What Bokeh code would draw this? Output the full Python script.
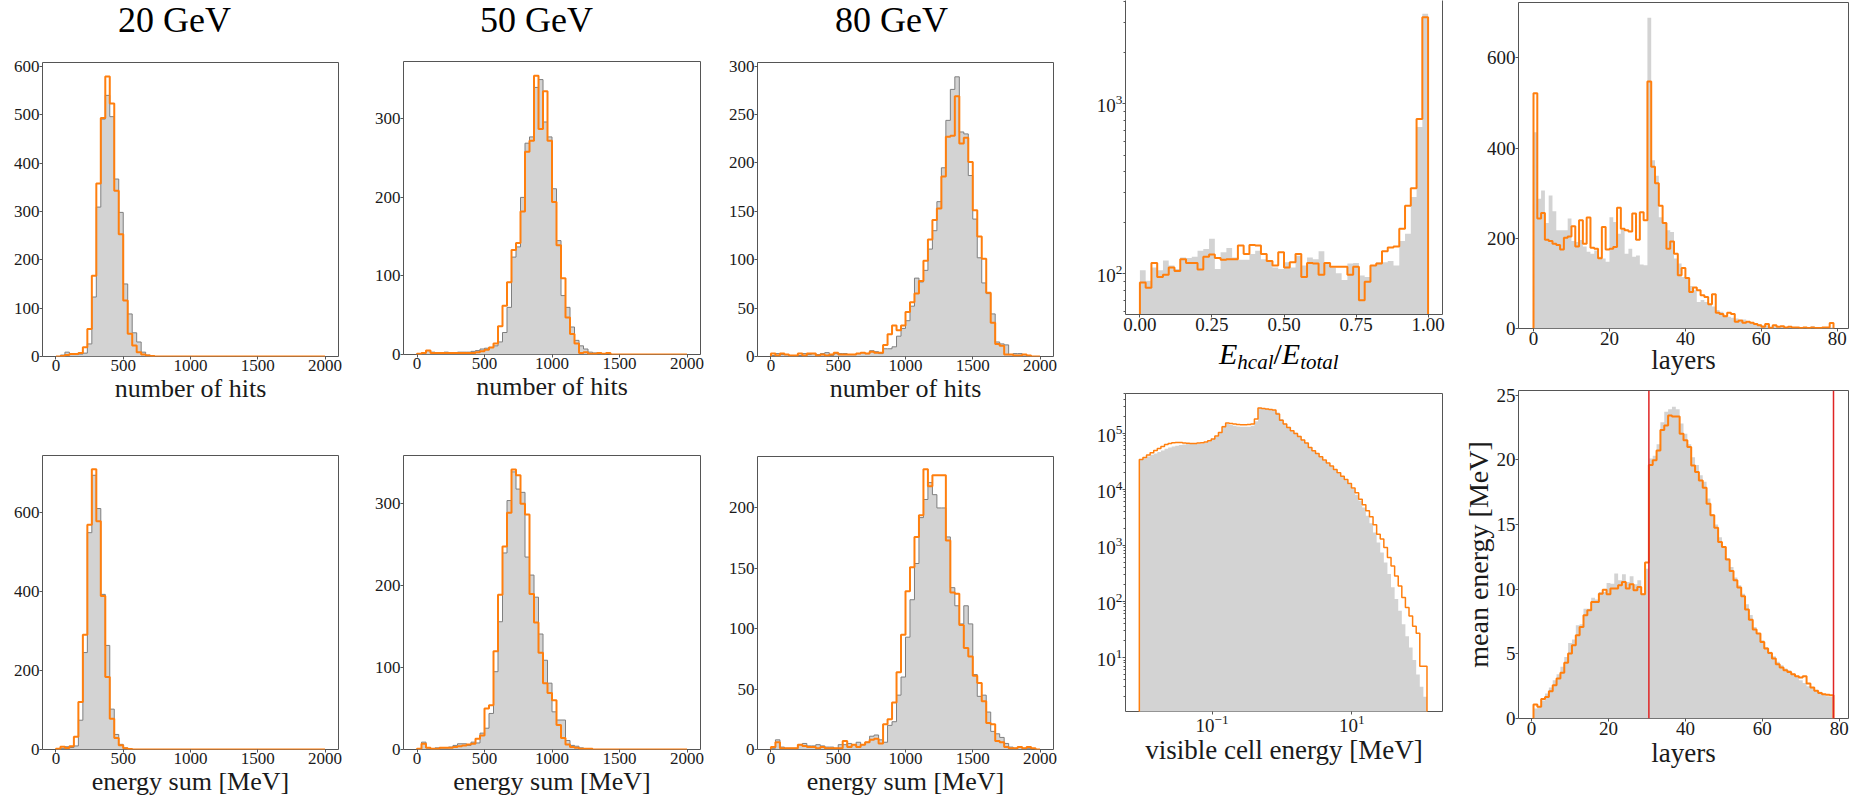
import numpy as np
from bokeh.plotting import figure
from bokeh.layouts import row, column
from bokeh.models import Range1d, FixedTicker, Span, LogAxis, PrintfTickFormatter, Div
from bokeh.embed import file_html
from bokeh.resources import INLINE

# ---------------------------------------------------------------- data
N_HIT_BINS = 60


def pad(vals, n=N_HIT_BINS):
    """Trailing empty bins are zero."""
    return list(vals) + [0] * (n - len(vals))


HIT_EDGES = np.linspace(0, 2000, N_HIT_BINS + 1)   # number of hits / energy sum [MeV]

ENERGY_LABELS = ["20 GeV", "50 GeV", "80 GeV"]

# number of hits, reference (grey) and generated (orange)
HITS_20_REF = pad([0, 3, 9, 4, 4, 5, 7, 26, 123, 309, 491, 540, 496, 367, 298, 150, 88, 49, 30, 9, 3, 1])
HITS_20_GEN = pad([0, 1, 3, 5, 5, 7, 19, 57, 167, 358, 493, 579, 523, 343, 253, 116, 47, 23, 9, 4, 2, 1])

HITS_50_REF = pad([1, 2, 5, 3, 2, 2, 3, 2, 2, 3, 3, 3, 4, 5, 7, 8, 9, 11, 16, 28, 60, 124, 137, 200, 269,
                   277, 340, 350, 296, 277, 211, 145, 75, 60, 35, 18, 11, 7, 3, 2, 1])
HITS_50_GEN = pad([1, 2, 5, 2, 2, 2, 2, 2, 2, 2, 2, 2, 2, 3, 4, 6, 9, 14, 36, 62, 92, 133, 142, 182, 258,
                   272, 355, 287, 335, 272, 194, 139, 97, 47, 26, 14, 2, 3, 1, 1, 2, 1, 2])

HITS_80_REF = [1, 3, 2, 2, 1, 1, 1, 3, 2, 3, 2, 3, 4, 1, 3, 3, 3, 2, 2, 3,
               4, 3, 6, 5, 3, 8, 8, 10, 21, 29, 37, 52, 81, 77, 89, 111, 130, 160, 195, 244,
               276, 289, 232, 230, 187, 142, 102, 76, 65, 44, 15, 13, 12, 2, 3, 3, 2, 1, 0, 0]
HITS_80_GEN = [3, 1, 3, 2, 1, 1, 3, 1, 3, 3, 1, 2, 1, 2, 4, 2, 2, 2, 2, 3,
               4, 3, 5, 4, 4, 12, 23, 32, 27, 32, 46, 56, 65, 78, 99, 121, 141, 153, 186, 227,
               228, 269, 220, 226, 201, 151, 124, 101, 66, 35, 13, 11, 2, 2, 1, 1, 2, 1, 0, 0]

# energy sum [MeV]
ESUM_20_REF = pad([1, 3, 7, 5, 9, 74, 245, 548, 693, 609, 392, 263, 102, 38, 13, 4, 2])
ESUM_20_GEN = pad([2, 7, 4, 8, 32, 120, 290, 568, 708, 577, 388, 183, 78, 29, 11, 3, 1])

ESUM_50_REF = pad([1, 9, 2, 1, 2, 2, 2, 3, 5, 7, 7, 5, 9, 8, 20, 26, 44, 95, 156, 240, 304, 339, 318, 314,
                   235, 213, 186, 141, 109, 81, 46, 36, 36, 11, 5, 4, 2, 1, 1])
ESUM_50_GEN = pad([1, 7, 2, 1, 1, 2, 2, 2, 3, 4, 5, 6, 7, 13, 17, 50, 54, 120, 189, 248, 289, 342, 335, 300,
                   287, 190, 155, 118, 81, 69, 60, 30, 14, 6, 3, 2, 1, 1, 1])

ESUM_80_REF = [1, 8, 2, 1, 1, 1, 4, 5, 3, 3, 4, 3, 2, 2, 1, 4, 4, 5, 4, 6,
               4, 6, 11, 12, 8, 6, 20, 23, 45, 60, 93, 124, 154, 192, 207, 221, 211, 200, 200, 176,
               134, 119, 104, 119, 104, 62, 44, 45, 31, 15, 13, 10, 5, 2, 1, 2, 1, 1, 0, 0]
ESUM_80_GEN = [2, 6, 1, 1, 1, 1, 4, 3, 2, 2, 1, 2, 1, 1, 1, 1, 7, 2, 4, 2,
               4, 6, 8, 9, 5, 21, 25, 39, 64, 95, 131, 151, 176, 194, 232, 218, 227, 227, 227, 173,
               130, 129, 103, 84, 77, 61, 55, 40, 22, 21, 7, 6, 2, 1, 1, 2, 1, 2, 1, 0]

# E_hcal / E_total (50 bins on [0, 1], log counts)
FRAC_EDGES = np.linspace(0, 1, 51)
FRAC_REF = [105, 91, 109, 105, 120, 112, 107, 125, 124, 126,
            137, 140, 161, 107, 134, 142, 125, 121, 121, 131,
            137, 122, 119, 109, 107, 117, 109, 128, 112, 125,
            122, 136, 115, 109, 101, 92, 115, 116, 98, 96,
            112, 117, 117, 119, 112, 156, 172, 283, 730, 3390]
FRAC_GEN = [89, 83, 116, 96, 99, 109, 104, 122, 116, 116,
            106, 126, 130, 124, 121, 122, 122, 147, 131, 148,
            147, 131, 119, 112, 134, 109, 117, 131, 96, 116,
            115, 99, 116, 110, 110, 110, 99, 110, 70, 90,
            112, 115, 136, 143, 145, 184, 252, 319, 816, 3236]

# hits per layer (layer 0 .. 78)
LAYER_EDGES = np.arange(0, 80)
LAYER_REF = [435, 288, 306, 234, 295, 260, 218, 218, 218, 244,
             194, 192, 196, 182, 170, 166, 173, 159, 155, 148,
             247, 236, 210, 219, 166, 177, 159, 162, 142, 140,
             689, 373, 339, 247, 236, 218, 214, 155, 144, 114,
             113, 94, 85, 59, 63, 59, 52, 49, 41, 37,
             30, 26, 24, 22, 18, 20, 15, 13, 11, 10,
             7, 7, 5, 5, 4, 4, 3, 3, 2, 2,
             2, 2, 2, 5, 2, 2, 1, 1, 2]
LAYER_GEN = [522, 244, 256, 197, 194, 188, 185, 175, 201, 204,
             227, 182, 240, 188, 246, 179, 177, 156, 225, 175,
             177, 181, 268, 221, 218, 215, 255, 197, 258, 240,
             548, 359, 322, 272, 234, 177, 193, 166, 118, 134,
             112, 81, 91, 85, 74, 70, 54, 76, 35, 32,
             27, 35, 32, 15, 18, 13, 15, 13, 10, 7,
             4, 10, 1, 7, 4, 5, 2, 4, 2, 2,
             1, 2, 1, 2, 1, 1, 2, 2, 12]

# visible cell energy [MeV] (80 log bins)
CELL_LOG_LO, CELL_LOG_HI = -2.042, 2.075
CELL_EDGES = np.logspace(CELL_LOG_LO, CELL_LOG_HI, 81)
CELL_REF = [33000, 35800, 38400, 41100, 43400, 45900, 49000, 52600, 55500, 57900,
            59500, 61200, 62800, 63700, 63700, 63700, 64600, 65500, 67400, 71000,
            78200, 86000, 101000, 135000, 145000, 140000, 135000, 131000, 130000, 130000,
            130000, 135000, 162000, 279000, 275000, 268000, 260000, 257000, 233000, 178000,
            149000, 130000, 113000, 101000, 89600, 77100, 67400, 56300, 48400, 43400,
            37300, 32500, 28800, 25500, 21900, 19100, 16700, 14500, 12300, 10100,
            7980, 6210, 4710, 3380, 2460, 1690, 1120, 745, 496, 308,
            178, 110, 68, 39, 24, 15, 9, 5, 3, 2]
CELL_GEN = [33800, 36800, 40500, 44600, 49000, 53300, 57900, 62800, 65500, 67400,
            68200, 67800, 66900, 66000, 65500, 65500, 66300, 67400, 69100, 73000,
            78200, 88400, 103000, 130000, 151000, 149000, 145000, 143000, 141000, 141000,
            143000, 145000, 178000, 279000, 275000, 268000, 264000, 257000, 218000, 170000,
            145000, 126000, 110000, 98700, 87200, 75000, 66300, 55500, 48400, 43400,
            37800, 33000, 29200, 25800, 22500, 19600, 17100, 14900, 12700, 10500,
            8630, 6650, 5270, 4120, 3230, 2320, 1580, 1290, 910, 604,
            429, 285, 189, 117, 78, 55, 36, 27, 7, 7]

# mean energy per layer [MeV] (layers 1 .. 78)
MEAN_EDGES = np.arange(0.5, 79.5, 1.0)
MEAN_REF = [0.77, 0.95, 1.4, 1.93, 2.39, 2.96, 3.42, 3.99, 4.76, 5.84,
            6.1, 7.2, 7.28, 8.49, 8.49, 9.34, 9.19, 9.78, 9.78, 10.48,
            10.42, 11.2, 10.68, 11.15, 10.55, 10.99, 10.37, 10.68, 9.7, 11.58,
            20.1, 20.3, 21.2, 22.9, 23.7, 23.9, 24.1, 23.9, 22.8, 22.0,
            21.2, 20.2, 19.6, 18.8, 18.3, 17.0, 15.8, 15.0, 14.0, 13.26,
            12.4, 11.7, 10.9, 10.3, 9.65, 8.83, 8.0, 7.08, 6.56, 6.05,
            5.53, 5.15, 4.81, 4.38, 4.12, 3.86, 3.73, 3.47, 3.22, 2.96,
            2.75, 2.5, 2.39, 2.19, 2.06, 1.88, 1.72, 1.67]
MEAN_GEN = [1.08, 0.9, 1.5, 1.67, 2.1, 2.57, 3.09, 3.53, 4.3, 5.02,
            5.66, 6.43, 7.08, 7.98, 8.37, 9.0, 9.0, 9.65, 9.96, 9.6,
            10.04, 10.04, 10.3, 10.55, 10.04, 10.37, 9.91, 10.17, 9.6, 12.05,
            19.6, 19.95, 20.72, 22.3, 22.65, 23.42, 23.35, 23.35, 22.0, 21.5,
            20.98, 19.56, 19.05, 18.4, 17.84, 16.6, 15.7, 14.75, 13.64, 13.26,
            12.28, 11.4, 10.68, 10.12, 9.45, 8.42, 7.64, 6.87, 6.56, 5.92,
            5.41, 5.07, 4.63, 4.2, 3.94, 3.73, 3.6, 3.42, 3.27, 3.17,
            3.27, 2.7, 2.39, 2.14, 1.98, 1.88, 1.83, 1.8]
DETECTOR_BOUNDARIES = [30.5, 78.5]

# ---------------------------------------------------------------- style
SERIF = "Liberation Serif"
ORANGE = "#ff7f0e"
GREY_FILL = "#d3d3d3"
GREY_EDGE = "#7f7f7f"
FRAME = "#555555"
TEXT = "#1a1a1a"
RED = "#e02424"


def make_panel(w, h, borders, xr, yr, xlog=False, ylog=False, tick_px=17, label_px=26):
    bl, br, bt, bb = borders
    p = figure(width=w, height=h,
               x_range=Range1d(*xr), y_range=Range1d(*yr),
               x_axis_type="log" if xlog else "linear",
               y_axis_type="log" if ylog else "linear",
               toolbar_location=None, output_backend="svg",
               min_border_left=bl, min_border_right=br,
               min_border_top=bt, min_border_bottom=bb)
    p.xgrid.visible = False
    p.ygrid.visible = False
    p.outline_line_color = FRAME
    p.outline_line_width = 1
    for ax in p.axis:
        ax.axis_line_color = None
        ax.major_tick_line_color = FRAME
        ax.major_tick_out = 3
        ax.major_tick_in = 0
        ax.minor_tick_line_color = None
        ax.major_label_text_font = SERIF
        ax.major_label_text_font_size = f"{tick_px}px"
        ax.major_label_text_color = TEXT
        ax.major_label_standoff = 0
        ax.axis_label_text_font = SERIF
        ax.axis_label_text_font_size = f"{label_px}px"
        ax.axis_label_text_font_style = "normal"
        ax.axis_label_text_color = TEXT
        ax.axis_label_standoff = 0
    return p


def draw_hist(p, edges, ref, gen, floor=0.0, ref_edge=True, gen_width=2.0):
    edges = np.asarray(edges, dtype=float)
    ref = np.asarray(ref, dtype=float)
    gen = np.asarray(gen, dtype=float)
    p.varea_step(x=edges, y1=np.full(len(edges), floor), y2=np.append(ref, ref[-1]),
                 step_mode="after", fill_color=GREY_FILL)
    sx = np.concatenate([[edges[0]], edges])
    if ref_edge:
        p.step(sx, np.concatenate([[floor], ref, [floor]]), mode="after",
               line_color=GREY_EDGE, line_width=1)
    p.step(sx, np.concatenate([[floor], gen, [floor]]), mode="after",
           line_color=ORANGE, line_width=gen_width)


def text_block(html, width, height, pad_left, size_px, line_px):
    return Div(text=html, width=width, height=height, margin=0,
               styles={"font-family": SERIF, "font-size": f"{size_px}px",
                       "line-height": f"{line_px}px", "color": "black",
                       "padding-left": f"{pad_left}px", "white-space": "nowrap"})


HIT_TICKS = [0, 500, 1000, 1500, 2000]
HEAD_H = 40

# ---------------------------------------------------------------- left block: per-energy histograms
left_specs = [
    # column width, heading indent, borders (top row / bottom row),
    # hits ref, hits gen, y max, y ticks, energy-sum ref, energy-sum gen, y max, y ticks
    (350, 118, (42, 12, 22, 59), (42, 12, 40, 52),
     HITS_20_REF, HITS_20_GEN, 608, [0, 100, 200, 300, 400, 500, 600],
     ESUM_20_REF, ESUM_20_GEN, 743, [0, 200, 400, 600]),
    (362, 130, (53, 12, 21, 61), (53, 12, 40, 52),
     HITS_50_REF, HITS_50_GEN, 373, [0, 100, 200, 300],
     ESUM_50_REF, ESUM_50_GEN, 359, [0, 100, 200, 300]),
    (363, 123, (45, 22, 22, 59), (45, 22, 41, 52),
     HITS_80_REF, HITS_80_GEN, 303.8, [0, 50, 100, 150, 200, 250, 300],
     ESUM_80_REF, ESUM_80_GEN, 242.6, [0, 50, 100, 150, 200]),
]

columns = []
for spec, label in zip(left_specs, ENERGY_LABELS):
    (w, indent, b_top, b_bot, h_ref, h_gen, h_ymax, h_yt, e_ref, e_gen, e_ymax, e_yt) = spec
    heading = text_block(label, w, HEAD_H, indent, 36, HEAD_H)

    ph = make_panel(w, 415 - HEAD_H, b_top, (-100, 2100), (0, h_ymax))
    draw_hist(ph, HIT_EDGES, h_ref, h_gen)
    ph.xaxis.ticker = FixedTicker(ticks=HIT_TICKS)
    ph.yaxis.ticker = FixedTicker(ticks=h_yt)
    ph.xaxis.axis_label = "number of hits"

    pe = make_panel(w, 386, b_bot, (-100, 2100), (0, e_ymax))
    draw_hist(pe, HIT_EDGES, e_ref, e_gen)
    pe.xaxis.ticker = FixedTicker(ticks=HIT_TICKS)
    pe.yaxis.ticker = FixedTicker(ticks=e_yt)
    pe.xaxis.axis_label = "energy sum [MeV]"
    columns.append(column(heading, ph, pe))

# ---------------------------------------------------------------- E_hcal / E_total
p_frac = make_panel(383, 340, (50, 16, 0, 26), (-0.05, 1.05), (57.7, 4055), ylog=True,
                    tick_px=19, label_px=27)
draw_hist(p_frac, FRAC_EDGES, FRAC_REF, FRAC_GEN, floor=1.0, ref_edge=False)
p_frac.xaxis.ticker = FixedTicker(ticks=[0, 0.25, 0.5, 0.75, 1.0])
p_frac.xaxis.formatter = PrintfTickFormatter(format="%.2f")
p_frac.yaxis.ticker = FixedTicker(ticks=[100, 1000],
                                  minor_ticks=[60, 70, 80, 90, 200, 300, 400, 500, 600, 700, 800, 900,
                                               2000, 3000, 4000])
p_frac.yaxis.minor_tick_line_color = FRAME
p_frac.yaxis.minor_tick_out = 2
p_frac.yaxis.minor_tick_in = 0
# open-topped frame: left/bottom axis lines plus a bare right axis
p_frac.outline_line_color = None
p_frac.xaxis.axis_line_color = FRAME
p_frac.yaxis.axis_line_color = FRAME
p_frac.add_layout(LogAxis(ticker=FixedTicker(ticks=[]), axis_line_color=FRAME,
                          major_tick_line_color=None, minor_tick_line_color=None), "right")

sub = '<span style="font-style:italic;font-size:21px;vertical-align:-5px">{}</span>'
frac_label_html = ('<span style="font-style:italic">E</span>' + sub.format("hcal") + '/'
                   + '<span style="font-style:italic">E</span>' + sub.format("total"))
frac_label = text_block(frac_label_html, 383, 40, 144, 30, 28)

# ---------------------------------------------------------------- visible cell energy
p_cell = make_panel(383, 421, (50, 12, 13, 90), (10 ** -2.240, 10 ** 2.297), (1.09, 5.08e5),
                    xlog=True, ylog=True, tick_px=19, label_px=27)
draw_hist(p_cell, CELL_EDGES, CELL_REF, CELL_GEN, floor=0.1, ref_edge=False, gen_width=1.5)
p_cell.xaxis.ticker = FixedTicker(ticks=[0.1, 10])
p_cell.yaxis.ticker = FixedTicker(ticks=[10, 100, 1000, 10000, 100000],
                                  minor_ticks=[m * 10 ** k for k in range(0, 6) for m in range(2, 10)])
p_cell.yaxis.minor_tick_line_color = FRAME
p_cell.yaxis.minor_tick_out = 2
p_cell.yaxis.minor_tick_in = 0
p_cell.xaxis.axis_label = "visible cell energy [MeV]"
columns.append(column(p_frac, frac_label, p_cell))

# ---------------------------------------------------------------- layer profiles
p_layer = make_panel(402, 379, (59, 12, 2, 51), (-3.95, 82.95), (0, 723), tick_px=19, label_px=27)
draw_hist(p_layer, LAYER_EDGES, LAYER_REF, LAYER_GEN, ref_edge=False)
p_layer.xaxis.ticker = FixedTicker(ticks=[0, 20, 40, 60, 80])
p_layer.yaxis.ticker = FixedTicker(ticks=[0, 200, 400, 600])
p_layer.xaxis.axis_label = "layers"
p_layer.xaxis.axis_label_standoff = -3

p_mean = make_panel(402, 422, (60, 11, 11, 83), (-3.4, 82.4), (0, 25.35), tick_px=19, label_px=27)
draw_hist(p_mean, MEAN_EDGES, MEAN_REF, MEAN_GEN, ref_edge=False)
for loc in DETECTOR_BOUNDARIES:
    p_mean.add_layout(Span(location=loc, dimension="height", line_color=RED, line_width=1.5))
p_mean.xaxis.ticker = FixedTicker(ticks=[0, 20, 40, 60, 80])
p_mean.yaxis.ticker = FixedTicker(ticks=[0, 5, 10, 15, 20, 25])
p_mean.xaxis.axis_label = "layers"
p_mean.yaxis.axis_label = "mean energy [MeV]"
p_mean.yaxis.axis_label_text_font_size = "28px"
columns.append(column(p_layer, p_mean))

layout = row(*columns)
open("out.html", "w").write(file_html(layout, INLINE))
